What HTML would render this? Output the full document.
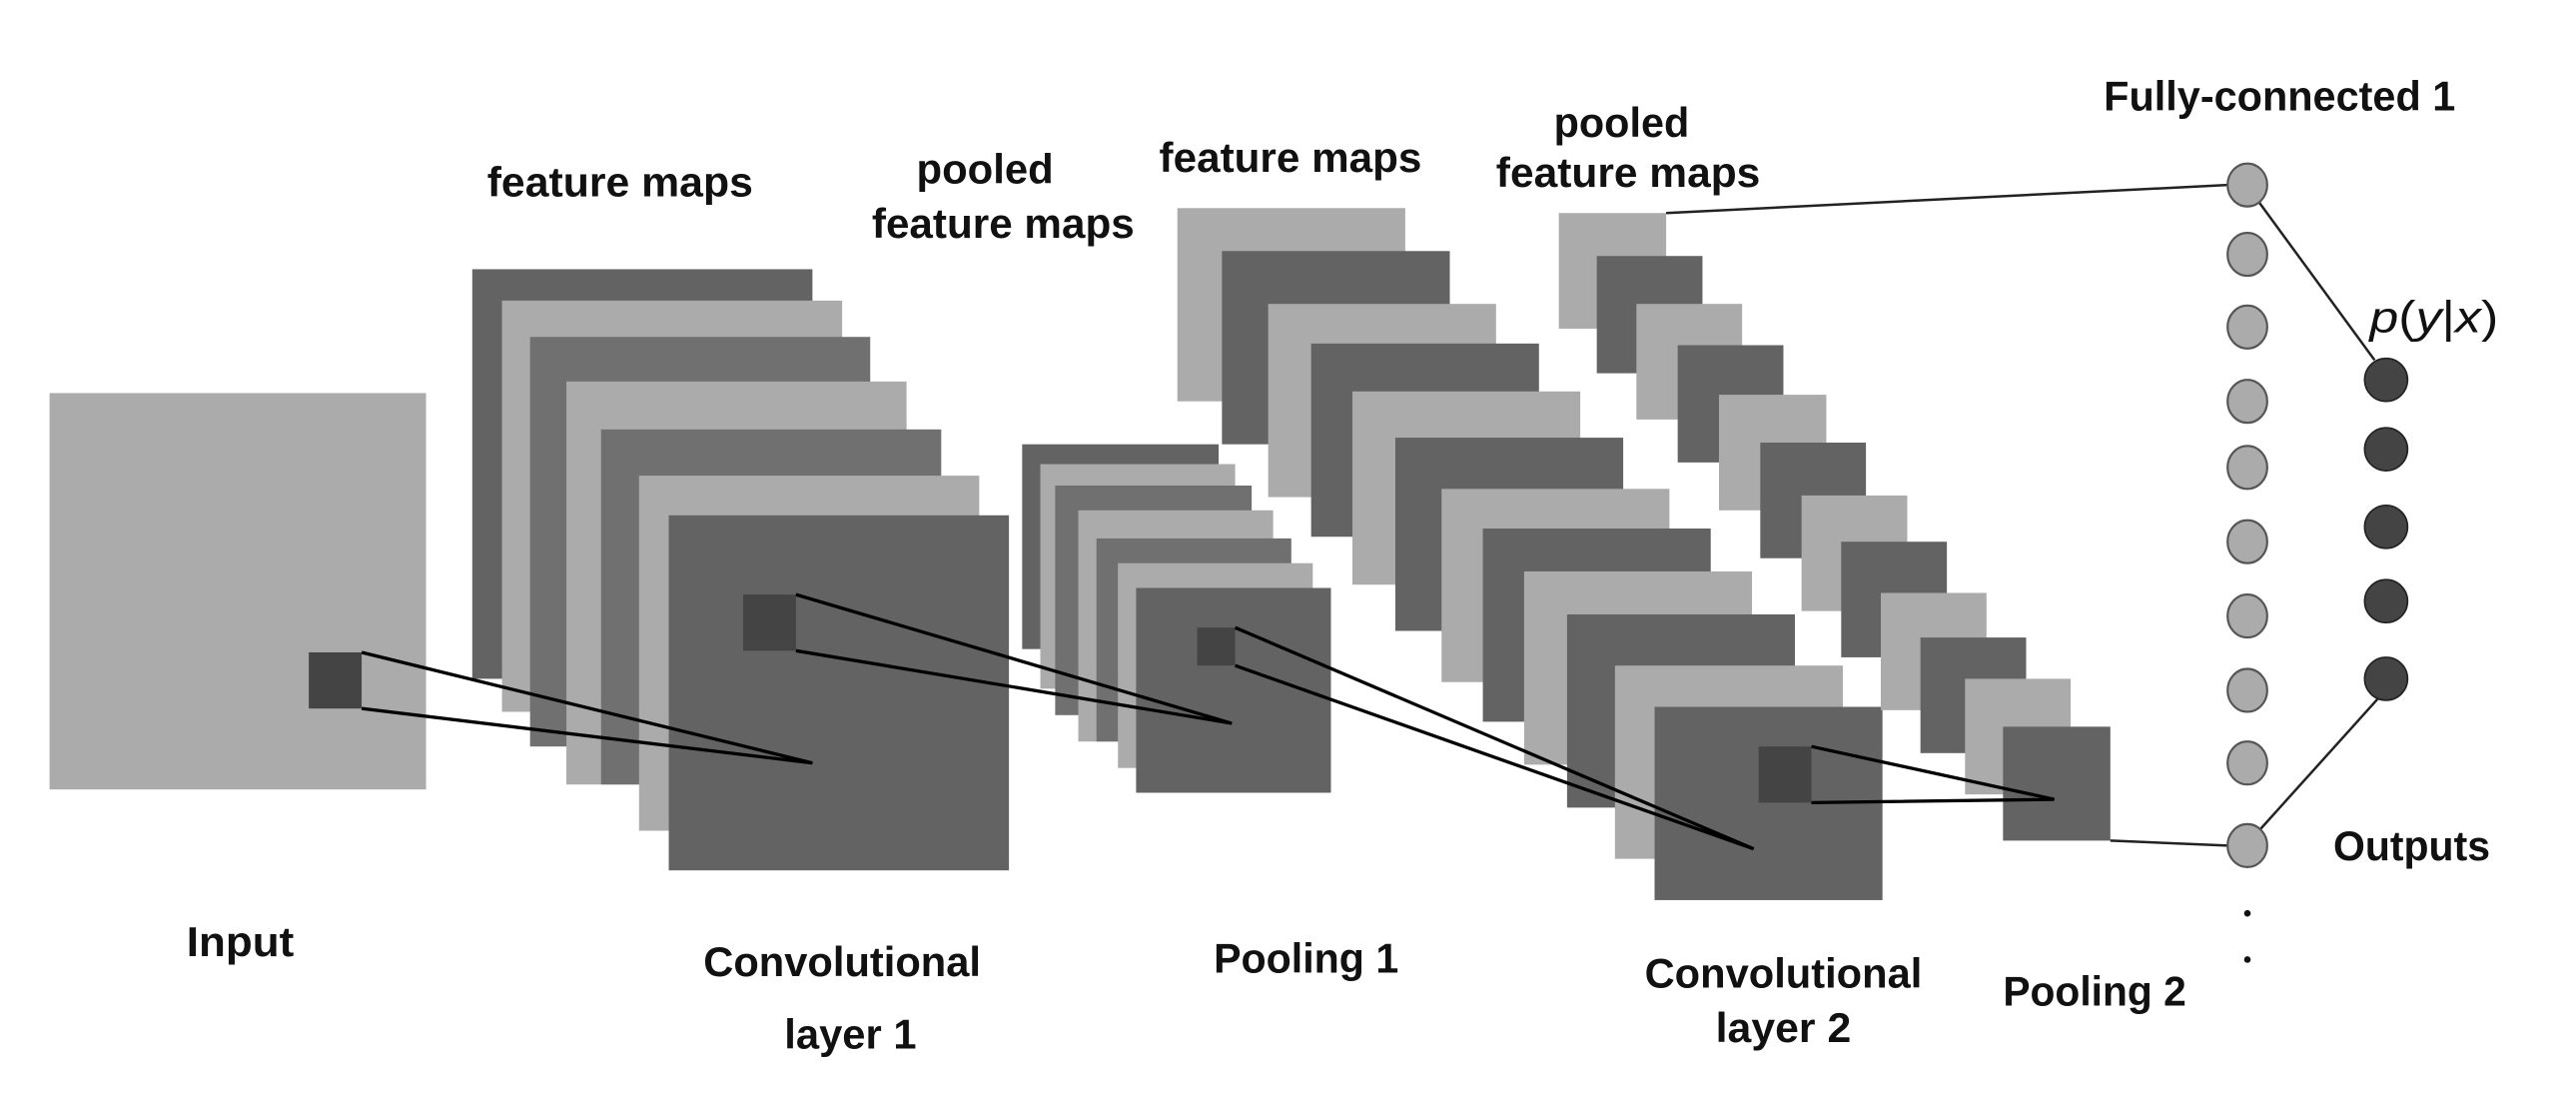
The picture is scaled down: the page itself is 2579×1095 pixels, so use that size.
<!DOCTYPE html>
<html><head><meta charset="utf-8"><style>
html,body{margin:0;padding:0;background:#fff;}
svg{display:block;}
text{font-family:"Liberation Sans",sans-serif;font-weight:bold;fill:#111;font-size:25px;}
</style></head><body>
<svg width="2579" height="1095" viewBox="0 0 1560 662.4" preserveAspectRatio="none" xmlns="http://www.w3.org/2000/svg">
<rect width="1560" height="662.4" fill="#fff"/>
<rect x="30" y="238" width="228" height="240" fill="#ababab"/>
<rect x="187" y="395" width="32" height="34" fill="#444"/>
<rect x="286" y="163" width="206" height="248" fill="#636363"/>
<rect x="304" y="182" width="206" height="249" fill="#ababab"/>
<rect x="321" y="204" width="206" height="248" fill="#707070"/>
<rect x="343" y="231" width="206" height="244" fill="#ababab"/>
<rect x="364" y="260" width="206" height="215" fill="#707070"/>
<rect x="387" y="288" width="206" height="215" fill="#ababab"/>
<rect x="405" y="312" width="206" height="215" fill="#636363"/>
<rect x="450" y="360" width="32" height="34" fill="#444"/>
<rect x="619" y="269" width="119" height="124" fill="#636363"/>
<rect x="630" y="281" width="118" height="136" fill="#ababab"/>
<rect x="639" y="294" width="119" height="139" fill="#707070"/>
<rect x="653" y="309" width="118" height="140" fill="#ababab"/>
<rect x="664" y="326" width="118" height="123" fill="#707070"/>
<rect x="677" y="341" width="118" height="124" fill="#ababab"/>
<rect x="688" y="356" width="118" height="124" fill="#636363"/>
<rect x="725" y="380" width="23" height="23" fill="#444"/>
<g>
<rect x="713" y="126" width="138" height="117" fill="#ababab"/>
<rect x="740" y="152" width="138" height="117" fill="#636363"/>
<rect x="768" y="184" width="138" height="117" fill="#ababab"/>
<rect x="794" y="208" width="138" height="117" fill="#636363"/>
<rect x="819" y="237" width="138" height="117" fill="#ababab"/>
<rect x="845" y="265" width="138" height="117" fill="#636363"/>
<rect x="873" y="296" width="138" height="117" fill="#ababab"/>
<rect x="898" y="320" width="138" height="117" fill="#636363"/>
<rect x="923" y="346" width="138" height="117" fill="#ababab"/>
<rect x="949" y="372" width="138" height="117" fill="#636363"/>
<rect x="978" y="403" width="138" height="117" fill="#ababab"/>
<rect x="1002" y="428" width="138" height="117" fill="#636363"/>
</g>
<rect x="1065" y="452" width="32" height="34" fill="#444"/>
<g>
<rect x="944" y="129" width="65" height="70" fill="#ababab"/>
<rect x="967" y="155" width="64" height="71" fill="#636363"/>
<rect x="991" y="184" width="64" height="70" fill="#ababab"/>
<rect x="1016" y="209" width="64" height="71" fill="#636363"/>
<rect x="1041" y="239" width="65" height="70" fill="#ababab"/>
<rect x="1066" y="268" width="64" height="70" fill="#636363"/>
<rect x="1091" y="300" width="64" height="70" fill="#ababab"/>
<rect x="1115" y="328" width="64" height="70" fill="#636363"/>
<rect x="1139" y="359" width="64" height="71" fill="#ababab"/>
<rect x="1163" y="386" width="64" height="70" fill="#636363"/>
<rect x="1190" y="411" width="64" height="70" fill="#ababab"/>
<rect x="1213" y="440" width="65" height="69" fill="#636363"/>
</g>
<g stroke="#000" stroke-width="2" fill="none">
<polyline points="219,395 492,462 219,429"/>
<polyline points="482,360 746,438 482,394"/>
<polyline points="748,380 1062,514 748,403"/>
<polyline points="1097,452 1244,484 1097,486"/>
</g>
<g stroke="#222" stroke-width="1.5" fill="none">
<line x1="1009" y1="129" x2="1349" y2="112"/>
<line x1="1278" y1="509" x2="1349" y2="512"/>
<line x1="1367" y1="121" x2="1438" y2="218"/>
<line x1="1441" y1="422" x2="1368" y2="503"/>
</g>
<g fill="#ababab" stroke="#555" stroke-width="1.3">
<ellipse cx="1361" cy="112" rx="12" ry="13"/>
<ellipse cx="1361" cy="154" rx="12" ry="13"/>
<ellipse cx="1361" cy="198" rx="12" ry="13"/>
<ellipse cx="1361" cy="243" rx="12" ry="13"/>
<ellipse cx="1361" cy="283" rx="12" ry="13"/>
<ellipse cx="1361" cy="328" rx="12" ry="13"/>
<ellipse cx="1361" cy="373" rx="12" ry="13"/>
<ellipse cx="1361" cy="418" rx="12" ry="13"/>
<ellipse cx="1361" cy="462" rx="12" ry="13"/>
<ellipse cx="1361" cy="512" rx="12" ry="13"/>
</g>
<g fill="#444" stroke="#222" stroke-width="1">
<ellipse cx="1445" cy="230" rx="13" ry="13"/>
<ellipse cx="1445" cy="272" rx="13" ry="13"/>
<ellipse cx="1445" cy="319" rx="13" ry="13"/>
<ellipse cx="1445" cy="364" rx="13" ry="13"/>
<ellipse cx="1445" cy="411" rx="13" ry="13"/>
</g>
<circle cx="1361" cy="553" r="2" fill="#111"/>
<circle cx="1361" cy="581" r="2" fill="#111"/>
<text x="295" y="119" textLength="161" lengthAdjust="spacingAndGlyphs">feature maps</text>
<text x="555" y="111" textLength="83" lengthAdjust="spacingAndGlyphs">pooled</text>
<text x="528" y="144" textLength="159" lengthAdjust="spacingAndGlyphs">feature maps</text>
<text x="702" y="104" textLength="159" lengthAdjust="spacingAndGlyphs">feature maps</text>
<text x="941" y="83" textLength="82" lengthAdjust="spacingAndGlyphs">pooled</text>
<text x="906" y="113" textLength="160" lengthAdjust="spacingAndGlyphs">feature maps</text>
<text x="1274" y="67" textLength="213" lengthAdjust="spacingAndGlyphs">Fully-connected 1</text>
<text x="1435" y="201" style="font-weight:normal;font-size:27px" textLength="78" lengthAdjust="spacingAndGlyphs"><tspan font-style="italic">p</tspan>(<tspan font-style="italic">y</tspan>|<tspan font-style="italic">x</tspan>)</text>
<text x="113" y="579" textLength="65" lengthAdjust="spacingAndGlyphs">Input</text>
<text x="426" y="591" textLength="168" lengthAdjust="spacingAndGlyphs">Convolutional</text>
<text x="475" y="635" textLength="80" lengthAdjust="spacingAndGlyphs">layer 1</text>
<text x="735" y="589" textLength="112" lengthAdjust="spacingAndGlyphs">Pooling 1</text>
<text x="996" y="598" textLength="168" lengthAdjust="spacingAndGlyphs">Convolutional</text>
<text x="1039" y="631" textLength="82" lengthAdjust="spacingAndGlyphs">layer 2</text>
<text x="1213" y="609" textLength="111" lengthAdjust="spacingAndGlyphs">Pooling 2</text>
<text x="1413" y="521" textLength="95" lengthAdjust="spacingAndGlyphs">Outputs</text>
</svg>
</body></html>
